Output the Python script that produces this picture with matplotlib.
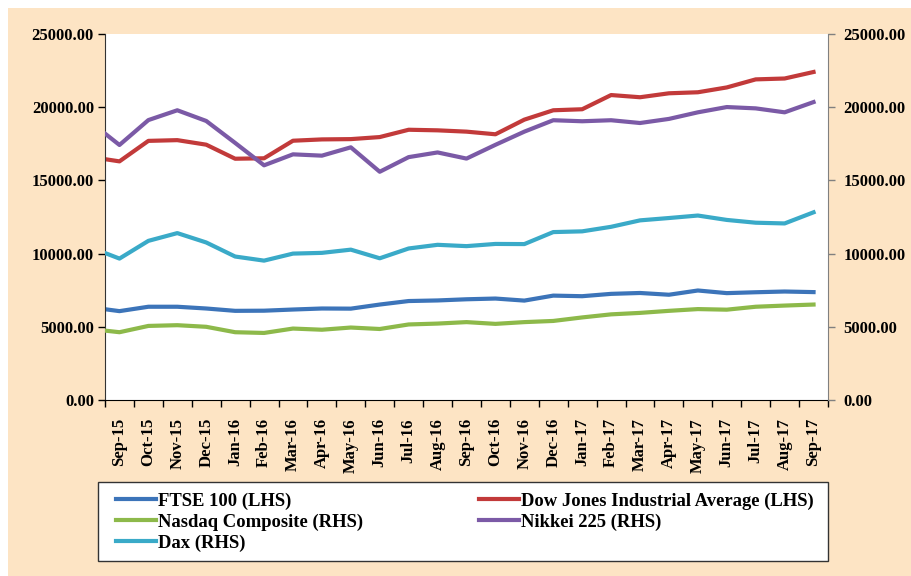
import numpy as np
import matplotlib
matplotlib.use("Agg")
import matplotlib.pyplot as plt
from matplotlib.patches import Rectangle
from matplotlib.ticker import FormatStrFormatter

plt.rcParams["font.family"] = ["Liberation Serif", "DejaVu Serif"]
plt.rcParams["font.weight"] = "bold"

months = ["Sep-15", "Oct-15", "Nov-15", "Dec-15", "Jan-16", "Feb-16", "Mar-16",
          "Apr-16", "May-16", "Jun-16", "Jul-16", "Aug-16", "Sep-16", "Oct-16",
          "Nov-16", "Dec-16", "Jan-17", "Feb-17", "Mar-17", "Apr-17", "May-17",
          "Jun-17", "Jul-17", "Aug-17", "Sep-17"]

# month-end closes, first value is end of Aug-15 (sits on the left edge)
ftse = [6200, 6070, 6370, 6370, 6250, 6090, 6100, 6180, 6250, 6240, 6520, 6760,
        6800, 6880, 6930, 6790, 7130, 7090, 7250, 7310, 7190, 7480, 7300, 7360,
        7410, 7370]
dow = [16450, 16300, 17700, 17750, 17440, 16480, 16510, 17710, 17800, 17820,
       17960, 18460, 18420, 18330, 18150, 19150, 19790, 19860, 20830, 20680,
       20950, 21020, 21350, 21900, 21960, 22405]
nasdaq = [4740, 4630, 5060, 5110, 5000, 4630, 4580, 4880, 4800, 4950, 4850, 5160,
          5220, 5320, 5200, 5320, 5400, 5640, 5850, 5950, 6090, 6210, 6170, 6370,
          6450, 6520]
nikkei = [18200, 17420, 19120, 19790, 19060, 17560, 16030, 16780, 16690, 17260,
          15590, 16590, 16910, 16490, 17430, 18330, 19110, 19040, 19110, 18920,
          19200, 19650, 20010, 19920, 19650, 20350]
dax = [10040, 9660, 10870, 11400, 10760, 9800, 9520, 10000, 10050, 10270, 9680,
       10350, 10600, 10510, 10660, 10650, 11470, 11520, 11830, 12270, 12430, 12600,
       12300, 12110, 12060, 12820]

c_ftse = "#3c74b9"
c_dow = "#c23a3a"
c_nasdaq = "#8db94a"
c_nikkei = "#7b5aa6"
c_dax = "#3aaac8"
peach = "#fde4c4"

x = np.concatenate([[-0.5], np.arange(len(months))])

W, H = 911, 576
fig = plt.figure(figsize=(W / 100, H / 100), dpi=100, facecolor="white")
fig.patches.append(Rectangle((8 / W, 0), 1, 1 - 8 / H, transform=fig.transFigure,
                             facecolor=peach, edgecolor="none", zorder=-10))
# legend box drawn by hand so the entries can sit inside with their own padding
fig.patches.append(Rectangle((98 / W, 1 - 561 / H), 730 / W, 79 / H,
                             transform=fig.transFigure, facecolor="white",
                             edgecolor="#333333", lw=1, zorder=-5))

ax = fig.add_axes([105 / W, 1 - 400 / H, 723 / W, 366 / H])
ax.set_facecolor("white")
ax2 = ax.twinx()

lw = 3
l1, = ax.plot(x, ftse, color=c_ftse, lw=lw, label="FTSE 100 (LHS)")
l2, = ax.plot(x, dow, color=c_dow, lw=lw, label="Dow Jones Industrial Average (LHS)")
l3, = ax2.plot(x, nasdaq, color=c_nasdaq, lw=lw, label="Nasdaq Composite (RHS)")
l4, = ax2.plot(x, nikkei, color=c_nikkei, lw=lw, label="Nikkei 225 (RHS)")
l5, = ax2.plot(x, dax, color=c_dax, lw=lw, label="Dax (RHS)")

for a in (ax, ax2):
    a.set_ylim(0, 25000)
    a.set_yticks(np.arange(0, 25001, 5000))
    a.yaxis.set_major_formatter(FormatStrFormatter("%.2f"))
    a.set_xlim(-0.5, len(months) - 0.5)
    a.spines["top"].set_visible(False)

ax.set_xticks(np.arange(len(months)))
ax.set_xticklabels(months, rotation=90, fontsize=12, fontweight="bold")
ax.set_xticks(np.arange(-0.5, len(months), 1), minor=True)
ax.tick_params(axis="x", which="major", length=0, pad=13)
ax.tick_params(axis="x", which="minor", length=5, width=1, color="black")
ax.tick_params(axis="y", length=5, width=1, pad=3, labelsize=12)
ax2.tick_params(axis="y", length=5, width=1, pad=6, labelsize=12, color="#808080")
for lab in ax.get_yticklabels() + ax2.get_yticklabels():
    lab.set_fontweight("bold")

ax.spines["left"].set_color("#333333")
ax.spines["bottom"].set_color("black")
ax.spines["right"].set_visible(False)
ax2.spines["left"].set_visible(False)
ax2.spines["bottom"].set_visible(False)
ax2.spines["right"].set_color("#808080")

leg = fig.legend(handles=[l1, l3, l5, l2, l4], ncol=2, loc="upper left",
                 bbox_to_anchor=(116 / W, 1 - 493 / H, (814 - 116) / W, 0.001),
                 mode="expand", prop={"weight": "bold", "size": 13.4},
                 frameon=False, handlelength=2.15, handletextpad=0.1,
                 labelspacing=0.2, borderaxespad=0, borderpad=0)

fig.savefig("out.png", dpi=100, facecolor=fig.get_facecolor())
